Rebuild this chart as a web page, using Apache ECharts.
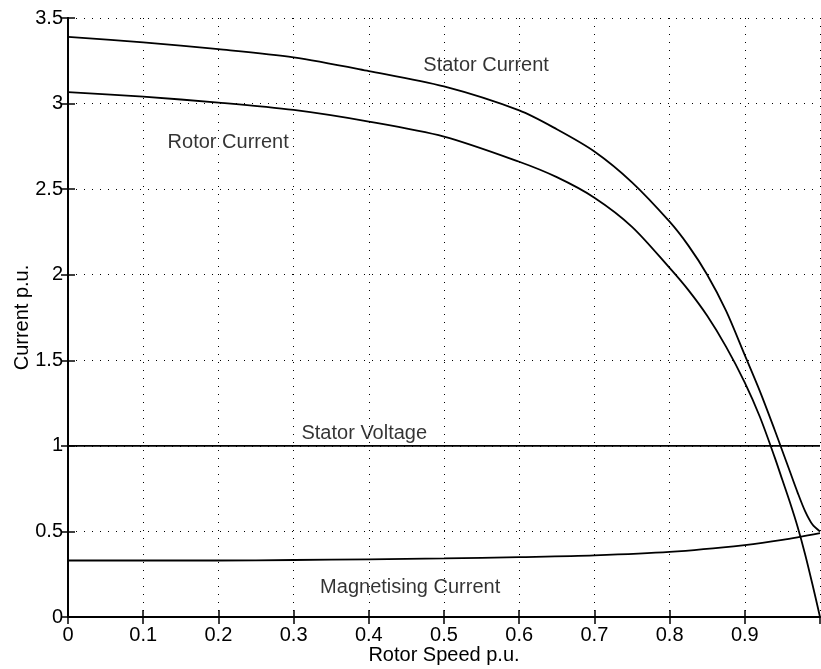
<!DOCTYPE html>
<html>
<head>
<meta charset="utf-8">
<script src="https://cdn.jsdelivr.net/npm/echarts@6/dist/echarts.min.js"></script>
<style>
  html, body { margin: 0; padding: 0; background: #fff; }
  #chart { width: 821px; height: 669px; }
</style>
</head>
<body>
<div id="chart"></div>
<script>
// rotor speed p.u. samples for the two current curves
const speed = [0, 0.1, 0.2, 0.3, 0.4, 0.5, 0.6, 0.65, 0.7, 0.75, 0.8, 0.825, 0.85, 0.875, 0.9, 0.92, 0.94, 0.95, 0.96, 0.97, 0.98, 0.99, 1.0];
const statorCurrent = [3.39, 3.357, 3.318, 3.27, 3.19, 3.10, 2.96, 2.85, 2.72, 2.54, 2.31, 2.17, 2.0, 1.79, 1.53, 1.32, 1.09, 0.97, 0.85, 0.73, 0.62, 0.54, 0.5];
const rotorCurrent = [3.067, 3.04, 3.006, 2.963, 2.895, 2.807, 2.66, 2.57, 2.45, 2.28, 2.04, 1.91, 1.76, 1.58, 1.37, 1.17, 0.93, 0.80, 0.67, 0.53, 0.37, 0.19, 0];

const magSpeed = [0, 0.1, 0.2, 0.3, 0.4, 0.5, 0.6, 0.7, 0.8, 0.9, 0.95, 1.0];
const magCurrent = [0.33, 0.33, 0.33, 0.333, 0.337, 0.342, 0.35, 0.36, 0.38, 0.42, 0.45, 0.49];

const voltSpeed = [0, 1];
const statorVoltage = [1.0, 1.0];

// curve labels: [x, y, text]
const curveLabels = [
  [0.556, 3.22, 'Stator Current'],
  [0.213, 2.77, 'Rotor Current'],
  [0.394, 1.075, 'Stator Voltage'],
  [0.455, 0.17, 'Magnetising Current']
];

const FONT = 'Liberation Sans';

function pairs(xs, ys) {
  return xs.map((x, i) => [x, ys[i]]);
}

const chart = echarts.init(document.getElementById('chart'));

const lineStyle = { color: '#000', width: 1.8 };
const dotted = { color: '#000', width: 1, type: [1, 7] };
const tickStyle = { color: '#000', width: 1.5 };

const option = {
  backgroundColor: '#fff',
  animation: false,
  grid: { left: 68, right: 1, top: 18, bottom: 52, containLabel: false, outerBoundsMode: 'none' },
  xAxis: [
    {
      type: 'value',
      min: 0,
      max: 1,
      interval: 0.1,
      name: 'Rotor Speed p.u.',
      nameLocation: 'middle',
      nameGap: 28,
      nameMoveOverlap: false,
      nameTextStyle: { fontFamily: FONT, fontSize: 20, color: '#000' },
      axisLine: { lineStyle: { color: '#000', width: 1.8 } },
      axisTick: { inside: true, length: 7, lineStyle: tickStyle },
      axisLabel: {
        fontFamily: FONT, fontSize: 20, color: '#000', margin: 8,
        showMaxLabel: false,
        formatter: v => String(+v.toFixed(1))
      },
      splitLine: { show: true, lineStyle: dotted }
    },
    {
      type: 'value',
      position: 'top',
      min: 0,
      max: 1,
      interval: 0.1,
      axisLine: { lineStyle: { color: '#000', width: 1.8 } },
      axisTick: { inside: true, length: 7, lineStyle: tickStyle },
      axisLabel: { show: false },
      splitLine: { show: false }
    }
  ],
  yAxis: [
    {
      type: 'value',
      min: 0,
      max: 3.5,
      interval: 0.5,
      name: 'Current p.u.',
      nameLocation: 'middle',
      nameGap: 36,
      nameMoveOverlap: false,
      nameTextStyle: { fontFamily: FONT, fontSize: 20, color: '#000' },
      axisLine: { show: true, lineStyle: { color: '#000', width: 1.8 } },
      axisTick: { show: true, inside: true, length: 7, lineStyle: tickStyle },
      axisLabel: {
        fontFamily: FONT, fontSize: 20, color: '#000', margin: 5,
        formatter: v => String(+v.toFixed(1))
      },
      splitLine: { show: true, lineStyle: dotted }
    },
    {
      type: 'value',
      position: 'right',
      min: 0,
      max: 3.5,
      interval: 0.5,
      axisLine: { show: true, lineStyle: { color: '#000', width: 1.8 } },
      axisTick: { show: true, inside: true, length: 7, lineStyle: tickStyle },
      axisLabel: { show: false },
      splitLine: { show: false }
    }
  ],
  series: [
    {
      name: 'Stator Current',
      type: 'line',
      data: pairs(speed, statorCurrent),
      smooth: 0.3,
      symbol: 'none',
      lineStyle: lineStyle
    },
    {
      name: 'Rotor Current',
      type: 'line',
      data: pairs(speed, rotorCurrent),
      smooth: 0.3,
      symbol: 'none',
      lineStyle: lineStyle
    },
    {
      name: 'Stator Voltage',
      type: 'line',
      data: pairs(voltSpeed, statorVoltage),
      symbol: 'none',
      lineStyle: lineStyle
    },
    {
      name: 'Magnetising Current',
      type: 'line',
      data: pairs(magSpeed, magCurrent),
      smooth: 0.3,
      symbol: 'none',
      lineStyle: lineStyle
    },
    {
      name: 'labels',
      type: 'scatter',
      symbolSize: 0,
      silent: true,
      data: curveLabels.map(d => ({ value: [d[0], d[1]], name: d[2] })),
      label: {
        show: true,
        position: 'inside',
        formatter: p => p.name,
        fontFamily: FONT,
        fontSize: 20,
        color: '#000'
      }
    }
  ]
};

chart.setOption(option);
</script>
</body>
</html>
